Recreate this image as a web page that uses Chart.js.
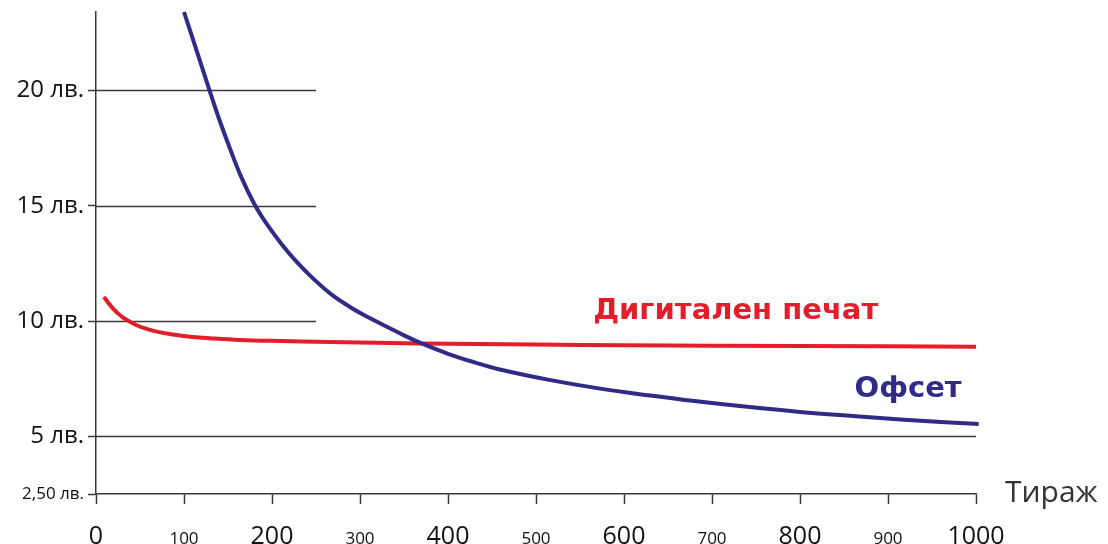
<!DOCTYPE html>
<html>
<head>
<meta charset="utf-8">
<script src="https://cdn.jsdelivr.net/npm/chart.js@4/dist/chart.umd.min.js"></script>
<style>
  html, body { margin: 0; padding: 0; background: #fff; }
  #wrap { width: 1108px; height: 544px; position: relative; }
</style>
</head>
<body>
<div id="wrap"><canvas id="chart"></canvas></div>
<script>
// Тираж (x values) and prices
const offsetX = [100, 115, 129, 140, 152, 165, 181, 196, 211, 226, 243, 266, 289, 310, 330, 350, 368, 400, 430, 459, 515, 573, 630, 680, 740, 800, 860, 914, 960, 1003];
const offsetY = [23.4, 21.65, 20.0, 18.75, 17.5, 16.25, 15.0, 14.1, 13.33, 12.65, 11.98, 11.2, 10.6, 10.15, 9.76, 9.38, 9.06, 8.58, 8.21, 7.9, 7.45, 7.07, 6.77, 6.53, 6.28, 6.06, 5.88, 5.73, 5.62, 5.53];

const digitalX = [9, 15, 20, 25, 30, 37, 45, 55, 69, 85, 107, 135, 164, 200, 266, 368, 500, 600, 800, 1000];
const digitalY = [11.05, 10.74, 10.52, 10.33, 10.17, 10.0, 9.84, 9.69, 9.54, 9.43, 9.32, 9.24, 9.18, 9.14, 9.09, 9.03, 8.98, 8.95, 8.92, 8.89];

const yTickValues = [2.5, 5, 10, 15, 20];
const yTickLabels = ['2,50 лв.', '5 лв.', '10 лв.', '15 лв.', '20 лв.'];
const xTickValues = [0, 100, 200, 300, 400, 500, 600, 700, 800, 900, 1000];
const xTickLabels = ['0', '100', '200', '300', '400', '500', '600', '700', '800', '900', '1000'];

const axisColor = '#3a3a3a';
const FONT = '"Open Sans", "DejaVu Sans", sans-serif';

// partial grid lines, x-axis labels and the series names
const decorations = {
  id: 'decorations',
  beforeDatasetsDraw(chart) {
    const { ctx, scales: { x, y } } = chart;
    ctx.save();
    ctx.strokeStyle = axisColor;
    ctx.lineWidth = 1.5;
    [[5, 1000], [10, 250], [15, 250], [20, 250]].forEach(([v, end]) => {
      const py = Math.round(y.getPixelForValue(v)) + 0.5;
      ctx.beginPath();
      ctx.moveTo(x.left, py);
      ctx.lineTo(x.getPixelForValue(end), py);
      ctx.stroke();
    });
    ctx.restore();
  },
  afterDraw(chart) {
    const { ctx, scales: { x, y } } = chart;
    ctx.save();
    ctx.fillStyle = '#111';
    ctx.textAlign = 'center';
    ctx.textBaseline = 'alphabetic';
    xTickValues.forEach((v, i) => {
      const big = v % 200 === 0;
      ctx.font = (big ? '25px ' : '17px ') + FONT;
      ctx.fillText(xTickLabels[i], x.getPixelForValue(v), y.bottom + 50);
    });

    ctx.textAlign = 'left';
    ctx.fillStyle = '#333';
    ctx.font = '30px ' + FONT;
    ctx.fillText('Тираж', x.right + 29, y.bottom + 8);

    ctx.font = 'bold 29px "DejaVu Sans", sans-serif';
    ctx.fillStyle = '#e31e2a';
    ctx.fillText('Дигитален печат', x.getPixelForValue(565), y.getPixelForValue(10.1));
    ctx.fillStyle = '#2f2b86';
    ctx.fillText('Офсет', x.getPixelForValue(862), y.getPixelForValue(6.72));
    ctx.restore();
  }
};

new Chart(document.getElementById('chart'), {
  type: 'line',
  data: {
    datasets: [
      {
        label: 'Офсет',
        data: offsetX.map((v, i) => ({ x: v, y: offsetY[i] })),
        borderColor: '#2f2b86',
        borderWidth: 4,
        pointRadius: 0,
        tension: 0.4,
        clip: false,
      },
      {
        label: 'Дигитален печат',
        data: digitalX.map((v, i) => ({ x: v, y: digitalY[i] })),
        borderColor: '#e31e2a',
        borderWidth: 4,
        pointRadius: 0,
        tension: 0.4,
      },
    ],
  },
  options: {
    responsive: true,
    maintainAspectRatio: false,
    animation: false,
    layout: { autoPadding: false, padding: { left: 0, top: 12, right: 132, bottom: 0 } },
    plugins: { legend: { display: false }, tooltip: { enabled: false } },
    scales: {
      x: {
        type: 'linear',
        min: 0,
        max: 1000,
        ticks: { stepSize: 100, display: false },
        grid: { drawOnChartArea: false, drawTicks: true, tickLength: 10, tickColor: axisColor, tickWidth: 1.5 },
        border: { display: true, color: axisColor, width: 1.5 },
        afterFit: (s) => { s.height = 50; s.paddingLeft = 0; s.paddingRight = 0; },
      },
      y: {
        min: 2.5,
        max: 23.4,
        afterBuildTicks: (s) => { s.ticks = yTickValues.map((v) => ({ value: v })); },
        ticks: {
          padding: 4,
          color: '#111',
          font: (c) => ({ family: FONT, size: c.tick && c.tick.value === 2.5 ? 17 : 24 }),
          callback: (v) => yTickLabels[yTickValues.indexOf(v)],
        },
        grid: { drawOnChartArea: false, drawTicks: true, tickLength: 8, tickColor: axisColor, tickWidth: 1.5 },
        border: { display: true, color: axisColor, width: 1.5 },
        afterFit: (s) => { s.width = 96; s.paddingTop = 0; s.paddingBottom = 0; },
      },
    },
  },
  plugins: [decorations],
});
</script>
</body>
</html>
